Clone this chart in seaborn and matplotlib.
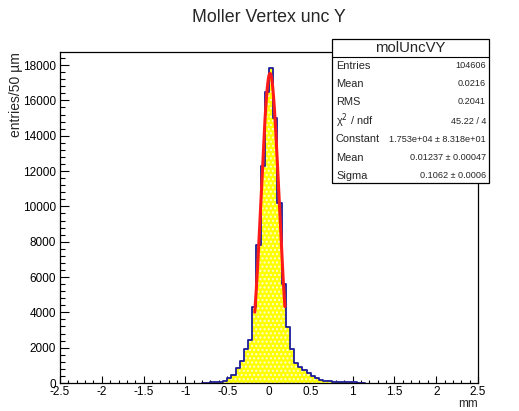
import numpy as np
import pandas as pd
import matplotlib
matplotlib.use("Agg")
import matplotlib.pyplot as plt
from matplotlib.patches import Rectangle
from matplotlib.lines import Line2D
import seaborn as sns

# ---------------- data ----------------
title = "Moller Vertex unc Y"
hist_name = "molUncVY"
x_label = "mm"
y_label = "entries/50 \u00b5m"

bin_lo = -0.80
bin_width = 0.05
counts = [20, 25, 35, 50, 80, 140, 300, 480, 850, 1250, 1900, 2450,
          4300, 7800, 12300, 16500, 17850, 15000, 10200, 5600,
          3150, 1900, 1150, 900, 720, 550, 380, 260, 180, 130, 95, 75,
          60, 50, 40, 35, 30, 25, 20]

fit_constant = 1.753e4
fit_mean = 0.01237
fit_sigma = 0.1062
fit_range = [-0.17, 0.19]

stat_labels = ["Entries", "Mean", "RMS", "\u03c7$^2$ / ndf", "Constant", "Mean", "Sigma"]
stat_values = ["104606", "0.0216", "0.2041", "45.22 / 4",
               "1.753e+04 \u00b1 8.318e+01", "0.01237 \u00b1 0.00047", "0.1062 \u00b1 0.0006"]

x_ticks = [-2.5, -2, -1.5, -1, -0.5, 0, 0.5, 1, 1.5, 2, 2.5]
x_tick_labels = ["-2.5", "-2", "-1.5", "-1", "-0.5", "0", "0.5", "1", "1.5", "2", "2.5"]
y_ticks = [0, 2000, 4000, 6000, 8000, 10000, 12000, 14000, 16000, 18000]

# ---------------- build ----------------
edges = (bin_lo + bin_width * np.arange(len(counts) + 1)).tolist()
centers = [0.5 * (a + b) for a, b in zip(edges[:-1], edges[1:])]
df = pd.DataFrame({"x": centers, "w": counts})

sns.set_style("ticks")
plt.rcParams['font.family'] = ['Liberation Sans', 'DejaVu Sans']
plt.rcParams['hatch.linewidth'] = 1.0

fig = plt.figure(figsize=(5.19, 4.11), dpi=100)
ax = fig.add_axes([60/519, 1-383/411, (478-60)/519, (383-52)/411])

# yellow fill with white dotted pattern
sns.histplot(data=df, x="x", weights="w", bins=edges, element="step", fill=True,
             color="#ffff00", edgecolor="#fdfdd0", hatch="....", alpha=1.0,
             linewidth=0, ax=ax)
# blue outline
sns.histplot(data=df, x="x", weights="w", bins=edges, element="step", fill=False,
             color="#1c1c9c", linewidth=1.3, ax=ax)

xf = np.linspace(fit_range[0], fit_range[1], 300)
yf = fit_constant * np.exp(-0.5 * ((xf - fit_mean) / fit_sigma) ** 2)
sns.lineplot(x=xf, y=yf, color="#ff1a1a", linewidth=2.2, ax=ax, sort=False)

ax.set_xlim(-2.5, 2.5)
ax.set_ylim(0, 18740)
ax.set_xticks(x_ticks)
ax.set_xticklabels(x_tick_labels)
ax.set_yticks(y_ticks)
ax.set_yticklabels([str(v) for v in y_ticks])
ax.xaxis.set_minor_locator(matplotlib.ticker.MultipleLocator(0.1))
ax.yaxis.set_minor_locator(matplotlib.ticker.MultipleLocator(400))
ax.tick_params(axis="both", which="both", direction="in", top=False, right=False,
               labelsize=8.5, colors="black", width=0.8)
ax.tick_params(axis="y", which="major", length=6.5, pad=3)
ax.tick_params(axis="y", which="minor", length=3.3)
ax.tick_params(axis="x", which="major", length=5, pad=2)
ax.tick_params(axis="x", which="minor", length=2.5)
ax.set_xlabel("")
ax.set_ylabel("")
for s in ax.spines.values():
    s.set_visible(True)
    s.set_linewidth(0.9)
    s.set_color("black")

fig.text(268.5/519, 1-18/411, title, ha="center", va="center", fontsize=12.8)
fig.text(478/519, 1-404/411, x_label, ha="right", va="center", fontsize=8.5)
fig.text(16/519, 1-52/411, y_label, ha="center", va="top", rotation=90, fontsize=10)

# stats box
bx0, bx1 = 332/519, 489/519
by0, by1 = 1-183/411, 1-39/411
fig.add_artist(Rectangle((bx0, by0), bx1-bx0, by1-by0, transform=fig.transFigure,
                         facecolor="white", edgecolor="black", linewidth=0.9, zorder=5))
fig.add_artist(Line2D([bx0, bx1], [1-57/411, 1-57/411], transform=fig.transFigure,
                      color="black", linewidth=0.8, zorder=6))
fig.text((bx0+bx1)/2, 1-48/411, hist_name, ha="center", va="center", fontsize=10.7, zorder=7)
row_y = [66, 84, 102, 121, 139, 158, 176]
for lab, val, yy in zip(stat_labels, stat_values, row_y):
    fig.text(336/519, 1-yy/411, lab, ha="left", va="center", fontsize=7.9, zorder=7)
    fig.text(486/519, 1-yy/411, val, ha="right", va="center", fontsize=6.6, zorder=7)

fig.savefig("out.png", dpi=100)
